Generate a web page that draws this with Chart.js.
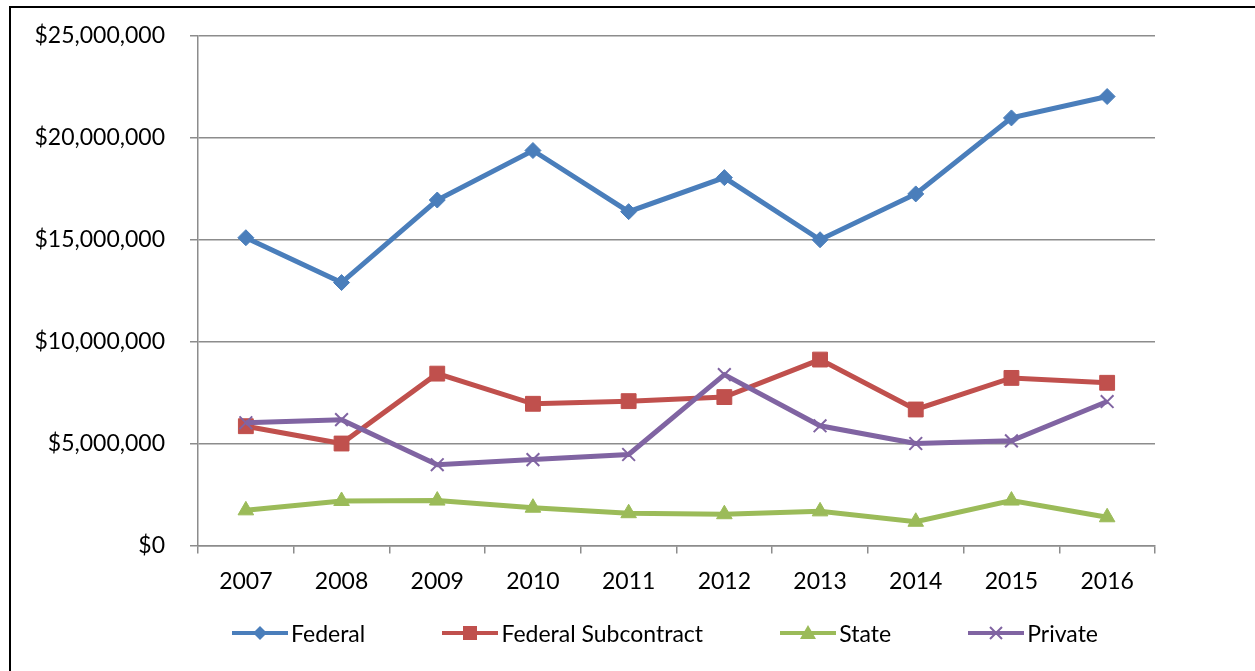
<!DOCTYPE html>
<html>
<head>
<meta charset="utf-8">
<script src="https://cdn.jsdelivr.net/npm/chart.js@4"></script>
<style>
  html, body { margin: 0; padding: 0; background: #fff; overflow: hidden; }
  #frame { position: absolute; left: 9px; top: 6px; width: 1300px; height: 700px;
           border-left: 2px solid #000; border-top: 2px solid #000; }
  #wrap { position: absolute; left: 0; top: 0; width: 1255px; height: 671px; }
  #legend { position: absolute; left: 232px; top: 621px; width: 866px; height: 24px;
            display: flex; justify-content: space-between; align-items: center;
            font-family: Lato, 'Liberation Sans', sans-serif; font-size: 23px; color: #000; }
  #legend .item { display: flex; align-items: center; white-space: nowrap; }
  #legend canvas { margin-right: 3px; }
</style>
</head>
<body>
<div id="frame"></div>
<div id="wrap"><canvas id="chart"></canvas></div>
<div id="legend"></div>
<script>
// years on the x axis
const years = ['2007', '2008', '2009', '2010', '2011', '2012', '2013', '2014', '2015', '2016'];

// series values (dollars)
const federal     = [15100000, 12900000, 16950000, 19380000, 16380000, 18050000, 15000000, 17250000, 20980000, 22030000];
const subcontract = [5850000, 5000000, 8430000, 6950000, 7080000, 7280000, 9120000, 6670000, 8220000, 7980000];
const state       = [1720000, 2180000, 2200000, 1850000, 1580000, 1530000, 1670000, 1160000, 2200000, 1380000];
const privateFund = [6020000, 6170000, 3960000, 4210000, 4460000, 8380000, 5870000, 5000000, 5130000, 7060000];

const yTicks = [0, 5000000, 10000000, 15000000, 20000000, 25000000];

const FONT = "Lato, 'Liberation Sans', sans-serif";
const FS = 23;

const series = [
  { label: 'Federal', data: federal, color: '#4A7EBB', point: 'rectRot', radius: 8, icon: 'diamond', order: 3 },
  { label: 'Federal Subcontract', data: subcontract, color: '#C0504D', point: 'rect', radius: 10.5, icon: 'square', order: 2 },
  { label: 'State', data: state, color: '#9BBB59', point: 'triangle', radius: 9, icon: 'triangle', order: 1 },
  { label: 'Private', data: privateFund, color: '#8064A2', point: 'crossRot', radius: 9, icon: 'cross', order: 0 }
];

// legend swatch: line with the marker in the middle
function drawIcon(c, color, style) {
  c.width = 56; c.height = 22;
  const g = c.getContext('2d');
  g.strokeStyle = color;
  g.fillStyle = color;
  g.lineWidth = 4;
  g.beginPath(); g.moveTo(0, 11); g.lineTo(56, 11); g.stroke();
  const x = 28, y = 11;
  g.beginPath();
  if (style === 'diamond') {
    g.moveTo(x, y - 7); g.lineTo(x + 7, y); g.lineTo(x, y + 7); g.lineTo(x - 7, y); g.closePath(); g.fill();
  } else if (style === 'square') {
    g.fillRect(x - 7, y - 7, 14, 14);
  } else if (style === 'triangle') {
    g.moveTo(x, y - 8); g.lineTo(x + 8, y + 6); g.lineTo(x - 8, y + 6); g.closePath(); g.fill();
  } else {
    g.lineWidth = 2;
    g.moveTo(x - 6, y - 6); g.lineTo(x + 6, y + 6);
    g.moveTo(x + 6, y - 6); g.lineTo(x - 6, y + 6); g.stroke();
  }
}

const legendEl = document.getElementById('legend');
series.forEach(s => {
  const item = document.createElement('div');
  item.className = 'item';
  const c = document.createElement('canvas');
  drawIcon(c, s.color, s.icon);
  const span = document.createElement('span');
  span.textContent = s.label;
  item.appendChild(c);
  item.appendChild(span);
  legendEl.appendChild(item);
});

new Chart(document.getElementById('chart'), {
  type: 'line',
  data: {
    labels: years,
    datasets: series.map(s => ({
      label: s.label,
      data: s.data,
      borderColor: s.color,
      backgroundColor: s.color,
      borderWidth: 5,
      tension: 0,
      pointStyle: s.point,
      pointRadius: s.radius,
      pointHoverRadius: s.radius,
      pointBorderWidth: s.point === 'crossRot' ? 2 : 1,
      pointBorderColor: s.color,
      pointBackgroundColor: s.color,
      order: s.order
    }))
  },
  options: {
    responsive: true,
    maintainAspectRatio: false,
    animation: false,
    layout: { padding: { top: 36, left: 20, right: 100, bottom: 62 } },
    plugins: {
      tooltip: { enabled: false },
      legend: { display: false }
    },
    scales: {
      x: {
        offset: true,
        grid: { display: true, drawOnChartArea: false, offset: true, tickLength: 8, color: '#8c8c8c', lineWidth: 1.5 },
        border: { color: '#8c8c8c', width: 1.5 },
        ticks: { font: { family: FONT, size: FS }, color: '#000', padding: 14, maxRotation: 0 }
      },
      y: {
        min: 0,
        max: 25000000,
        afterBuildTicks: scale => { scale.ticks = yTicks.map(v => ({ value: v })); },
        afterFit: scale => { scale.width = 178; scale.paddingTop = 0; scale.paddingBottom = 0; },
        grid: { color: '#8c8c8c', lineWidth: 1.5, tickLength: 8 },
        border: { color: '#8c8c8c', width: 1.5 },
        ticks: {
          font: { family: FONT, size: FS },
          color: '#000',
          padding: 25,
          callback: v => '$' + Number(v).toLocaleString('en-US')
        }
      }
    }
  }
});
</script>
</body>
</html>
